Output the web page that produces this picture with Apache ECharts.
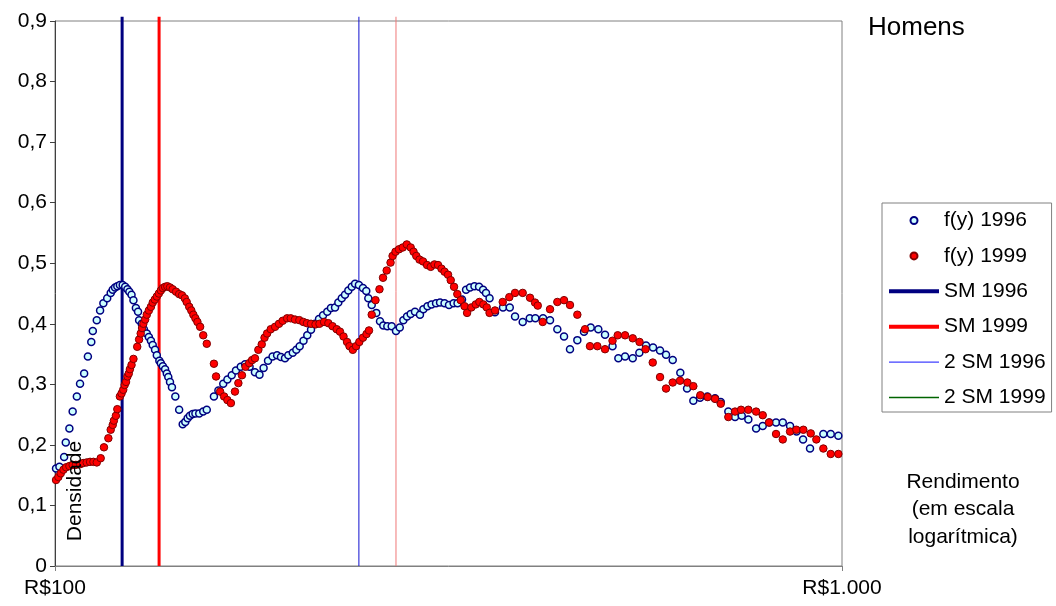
<!DOCTYPE html>
<html><head><meta charset="utf-8">
<script src="https://cdn.jsdelivr.net/npm/echarts@6/dist/echarts.min.js"></script>
<style>html,body{margin:0;padding:0;background:#fff}#c{width:1056px;height:606px}</style>
</head><body><div id="c"></div>
<script>
// Rendimento (R$) and density, f(y) 1996
const income1996 = [100.3,101.3,102.7,103.2,104.3,105.3,106.6,107.6,108.9,110.1,
111.2,111.7,113.0,114.1,115.2,116.5,117.7,118.4,119.2,120.0,
120.9,121.9,122.8,123.6,124.3,125.1,125.8,126.7,127.5,127.9,
128.9,129.7,130.8,131.6,132.4,133.1,134.0,134.7,135.7,136.3,
137.1,138.0,138.7,139.3,140.0,140.8,142.2,143.8,145.3,146.4,
147.4,148.4,149.6,150.8,152.5,154.3,155.9,159.2,161.3,163.6,
165.6,167.7,169.8,172.2,174.4,176.7,179.5,181.9,184.1,186.5,
189.0,191.5,193.7,196.0,197.9,200.5,202.6,204.6,206.9,209.2,
211.5,214.0,216.5,219.1,221.8,224.2,226.9,229.1,231.4,233.6,
235.9,238.3,240.6,243.3,246.2,248.6,250.1,252.6,256.0,258.8,
261.3,264.4,267.8,271.2,274.2,277.1,280.1,283.1,286.7,290.9,
293.8,297.4,300.9,304.9,308.5,312.6,316.7,321.0,324.7,329.0,
332.9,336.8,341.2,345.8,349.9,352.9,356.6,362.3,370.9,378.3,
384.2,392.9,401.1,407.7,417.0,425.6,434.8,443.4,451.2,461.0,
470.1,479.4,490.2,499.9,511.0,519.8,530.1,542.1,552.7,563.6,
575.3,587.2,597.6,609.4,623.1,635.5,647.3,660.1,674.4,689.7,
701.3,717.1,731.3,745.8,760.3,777.8,793.0,808.5,824.5,840.9,
859.0,875.5,892.3,910.7,946.9,967.6,989.4];
const density1996 = [0.161,0.164,0.180,0.204,0.227,0.255,0.280,0.301,0.318,0.346,
0.370,0.388,0.406,0.422,0.434,0.442,0.451,0.456,0.460,0.462,
0.464,0.464,0.461,0.457,0.453,0.448,0.439,0.426,0.420,0.406,
0.400,0.391,0.384,0.378,0.372,0.365,0.357,0.348,0.339,0.335,
0.330,0.325,0.318,0.312,0.304,0.295,0.280,0.258,0.234,0.238,
0.244,0.248,0.251,0.252,0.252,0.255,0.258,0.280,0.290,0.301,
0.308,0.315,0.323,0.329,0.333,0.329,0.320,0.316,0.327,0.339,
0.346,0.348,0.345,0.343,0.348,0.352,0.357,0.363,0.372,0.381,
0.390,0.400,0.408,0.414,0.420,0.426,0.427,0.435,0.442,0.448,
0.455,0.461,0.466,0.464,0.459,0.454,0.442,0.431,0.418,0.404,
0.397,0.396,0.396,0.388,0.394,0.406,0.412,0.416,0.420,0.415,
0.424,0.429,0.432,0.434,0.435,0.434,0.431,0.434,0.434,0.440,
0.456,0.460,0.462,0.461,0.456,0.451,0.442,0.419,0.427,0.427,
0.412,0.403,0.409,0.409,0.409,0.406,0.391,0.379,0.358,0.373,
0.387,0.394,0.391,0.382,0.363,0.343,0.346,0.343,0.352,0.364,
0.361,0.356,0.349,0.340,0.319,0.293,0.273,0.278,0.280,0.277,
0.271,0.255,0.246,0.248,0.242,0.227,0.231,0.237,0.237,0.237,
0.231,0.222,0.209,0.194,0.218,0.218,0.215];

// f(y) 1999
const income1999 = [100.3,101.0,101.7,102.5,103.3,104.3,105.3,106.3,107.6,108.6,
109.7,110.8,111.9,113.0,114.3,115.4,116.9,117.7,118.4,118.8,
119.5,120.0,120.9,121.5,122.1,122.6,123.1,123.6,124.1,124.5,
125.1,125.8,127.2,127.9,128.5,129.0,129.5,130.2,130.8,131.6,
132.4,133.1,133.9,134.7,135.5,136.3,137.1,138.0,138.9,140.0,
141.1,142.5,143.8,145.0,146.2,147.0,148.1,149.0,149.9,150.8,
151.7,152.9,154.3,155.9,159.2,160.2,162.1,164.0,165.6,167.3,
169.3,171.0,172.8,174.6,176.5,178.0,179.5,181.3,183.1,184.6,
186.0,188.0,190.4,192.6,194.7,197.2,199.3,201.8,204.4,206.8,
209.0,211.5,214.3,216.8,219.7,222.5,225.2,228.0,230.2,232.6,
235.0,236.7,239.0,241.3,243.6,246.2,248.8,250.6,252.6,255.4,
258.4,261.1,263.9,266.9,268.5,270.8,273.6,276.6,279.9,283.1,
285.5,287.8,290.5,293.5,297.0,300.2,303.5,306.7,309.8,312.6,
315.8,318.3,321.4,324.5,327.7,331.4,333.9,338.1,342.5,346.1,
350.2,353.7,356.6,362.3,370.6,377.8,384.2,392.9,401.4,407.3,
410.6,416.6,425.6,434.8,443.4,451.2,461.0,471.5,478.4,488.8,
499.9,511.0,518.8,530.1,542.1,553.0,562.8,574.8,587.2,597.6,
609.4,622.6,636.1,647.3,660.7,675.1,689.7,701.3,717.1,731.3,
744.3,760.3,777.8,793.0,807.8,824.5,840.9,859.0,875.0,893.1,
912.6,927.7,946.9,967.6,989.4];
const density1999 = [0.142,0.147,0.153,0.159,0.163,0.165,0.167,0.167,0.168,0.170,
0.171,0.172,0.172,0.171,0.178,0.196,0.211,0.225,0.233,0.240,
0.248,0.259,0.280,0.285,0.291,0.299,0.304,0.313,0.318,0.325,
0.332,0.342,0.362,0.374,0.384,0.393,0.400,0.407,0.415,0.422,
0.428,0.435,0.440,0.445,0.450,0.455,0.459,0.461,0.462,0.460,
0.457,0.453,0.449,0.447,0.442,0.436,0.428,0.422,0.415,0.409,
0.403,0.395,0.381,0.367,0.334,0.313,0.288,0.280,0.274,0.269,
0.288,0.302,0.315,0.329,0.335,0.340,0.343,0.357,0.366,0.377,
0.384,0.391,0.395,0.400,0.405,0.409,0.409,0.407,0.406,0.403,
0.401,0.400,0.399,0.400,0.403,0.401,0.396,0.391,0.387,0.379,
0.370,0.363,0.357,0.363,0.370,0.377,0.383,0.389,0.415,0.439,
0.457,0.476,0.488,0.501,0.512,0.519,0.523,0.526,0.531,0.526,
0.519,0.512,0.506,0.503,0.497,0.494,0.498,0.497,0.491,0.486,
0.481,0.472,0.461,0.449,0.439,0.429,0.418,0.427,0.432,0.436,
0.432,0.427,0.418,0.422,0.436,0.444,0.451,0.451,0.443,0.435,
0.430,0.403,0.424,0.436,0.439,0.431,0.415,0.391,0.363,0.363,
0.358,0.372,0.381,0.381,0.376,0.370,0.358,0.336,0.312,0.293,
0.303,0.306,0.303,0.297,0.282,0.279,0.276,0.268,0.246,0.255,
0.258,0.258,0.255,0.249,0.237,0.218,0.209,0.222,0.225,0.225,
0.219,0.209,0.194,0.185,0.185];

// Salário mínimo reference lines (R$)
const wageNames = ['SM 1996', 'SM 1999', '2 SM 1996', '2 SM 1999'];
const wageIncome = [121.7, 135.6, 243.3, 271.2];
const lineTop = 0.907;

const yTickLabels = ['0','0,1','0,2','0,3','0,4','0,5','0,6','0,7','0,8','0,9'];
const xTickValues = [100, 1000];
const xTickLabels = ['R$100', 'R$1.000'];

const FONT = 'Liberation Sans, Arial, sans-serif';
const zip = (a, b) => a.slice(0, Math.min(a.length, b.length)).map((v, i) => [v, b[i]]);

const wageStyles = [
  {color: '#000080', width: 3},
  {color: '#ff0000', width: 3},
  {color: '#1010d0', width: 1},
  {color: '#f07878', width: 1}
];
const wageSeries = wageNames.map((n, i) => ({
  name: n, type: 'line', symbol: 'none', clip: false, z: 1, silent: true,
  color: wageStyles[i].color,
  lineStyle: {color: wageStyles[i].color, width: wageStyles[i].width},
  data: [[wageIncome[i], 0], [wageIncome[i], lineTop]]
}));

const chart = echarts.init(document.getElementById('c'), null, {renderer: 'canvas'});
chart.setOption({
  animation: false,
  backgroundColor: '#fff',
  textStyle: {fontFamily: FONT},
  grid: {left: 55, right: 214, top: 21, bottom: 40, show: true, borderColor: '#808080', borderWidth: 1, outerBoundsMode: 'none', containLabel: false},
  xAxis: {
    type: 'log', logBase: 10, min: 100, max: 1000,
    axisLine: {lineStyle: {color: '#808080'}},
    axisTick: {show: true, length: 5, lineStyle: {color: '#808080'}},
    minorTick: {show: false},
    splitLine: {show: false},
    axisLabel: {color: '#000', fontSize: 21, fontFamily: FONT, margin: 12,
      formatter: v => { const k = xTickValues.indexOf(Math.round(v)); return k >= 0 ? xTickLabels[k] : ''; }}
  },
  yAxis: {
    type: 'value', min: 0, max: 0.9, interval: 0.1,
    axisLine: {show: true, lineStyle: {color: '#404040'}},
    axisTick: {show: true, length: 5, lineStyle: {color: '#404040'}},
    splitLine: {show: false},
    axisLabel: {color: '#000', fontSize: 21, fontFamily: FONT, margin: 8,
      formatter: v => yTickLabels[Math.round(v * 10)]}
  },
  legend: {
    orient: 'vertical', left: 882, top: 203,
    padding: [7, 6, 4, 7],
    itemWidth: 50, itemHeight: 7, itemGap: 14.4,
    borderColor: '#808080', borderWidth: 1, backgroundColor: '#fff',
    textStyle: {fontSize: 21, color: '#000', fontFamily: FONT},
    selectedMode: false,
    data: [
      {name: 'f(y) 1996'},
      {name: 'f(y) 1999'},
      {name: 'SM 1996', icon: 'path://M0,0L50,0L50,4L0,4Z', itemStyle: {color: '#000080', borderWidth: 0}},
      {name: 'SM 1999', icon: 'path://M0,0L50,0L50,4L0,4Z', itemStyle: {color: '#ff0000', borderWidth: 0}},
      {name: '2 SM 1996', icon: 'path://M0,0L50,0L50,1.3L0,1.3Z', itemStyle: {color: '#4040ff', borderWidth: 0}},
      {name: '2 SM 1999', icon: 'path://M0,0L50,0L50,1.3L0,1.3Z', itemStyle: {color: '#006400', borderWidth: 0}}
    ]
  },
  graphic: [
    {type: 'text', x: 868, y: 28, style: {text: 'Homens', font: '26px ' + FONT, fill: '#000', align: 'left', verticalAlign: 'middle'}},
    {type: 'text', x: 963, y: 468, style: {text: 'Rendimento\n(em escala\nlogarítmica)', font: '21px ' + FONT, lineHeight: 27.5, fill: '#000', align: 'center', verticalAlign: 'top'}},
    {type: 'text', x: 75, y: 491, rotation: Math.PI / 2, z: 10, style: {text: 'Densidade', font: '21px ' + FONT, fill: '#000', align: 'center', verticalAlign: 'middle'}}
  ],
  series: wageSeries.concat([
    {
      name: 'f(y) 1996', type: 'scatter', z: 2, symbol: 'circle', symbolSize: 7,
      itemStyle: {color: '#ccffff', borderColor: '#000080', borderWidth: 1.5, opacity: 1},
      data: zip(income1996, density1996)
    },
    {
      name: 'f(y) 1999', type: 'scatter', z: 3, symbol: 'circle', symbolSize: 7.5,
      itemStyle: {color: '#ff0000', borderColor: '#800000', borderWidth: 1, opacity: 1},
      data: zip(income1999, density1999)
    }
  ])
});
</script>
</body></html>
